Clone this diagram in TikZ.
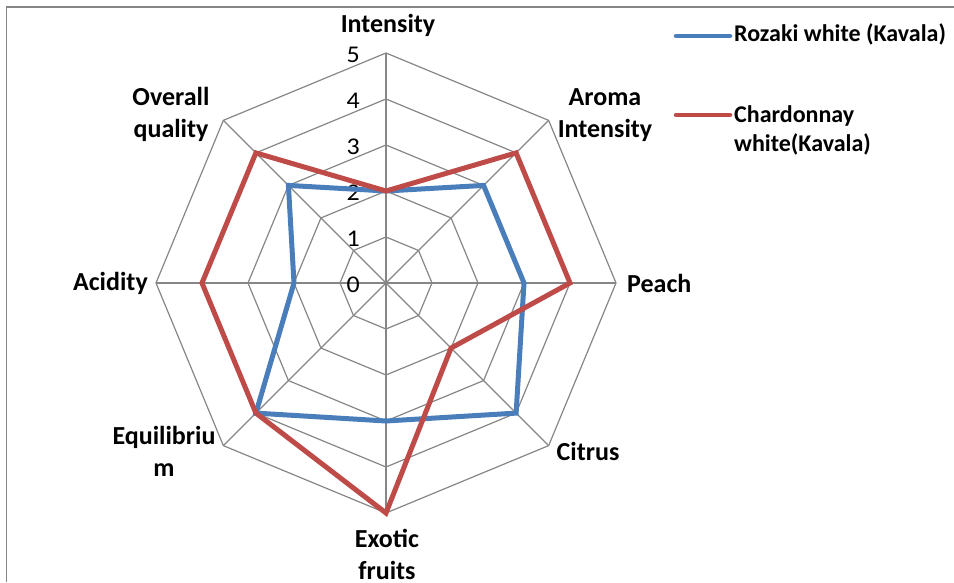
\documentclass[tikz,border=0pt]{standalone}
\usepackage{fontspec}
\setmainfont{Carlito}
\newfontfamily\tickfont[FakeStretch=1.08]{Carlito}
\definecolor{gridgray}{HTML}{868686}
\definecolor{rozaki}{HTML}{4A7EBB}
\definecolor{chard}{HTML}{BE4B48}
\begin{document}
\begin{tikzpicture}[x=1pt,y=1pt,
  gridline/.style={draw=gridgray, line width=1.2pt},
  series/.style={line width=5pt},
  cat/.style={font=\fontsize{26}{32}\selectfont\bfseries, align=center, inner sep=0pt},
  legtext/.style={font=\fontsize{24}{29}\selectfont\bfseries, align=left, inner sep=0pt, anchor=base west},
  ticklab/.style={font=\fontsize{24}{24}\tickfont, inner sep=0pt, anchor=east}]
\useasboundingbox (0,0) rectangle (954,582);
% frame (top and left edges visible)
\draw[gridgray, line width=1.2pt] (6.5,0) -- (6.5,575) -- (954,575);
\begin{scope}[shift={(386,299)}]
  \coordinate (O) at (0,0);
  % grid octagons
  \foreach \r in {46,92,138,184,230}{
    \draw[gridline] (90:\r) -- (45:\r) -- (0:\r) -- (-45:\r) -- (-90:\r) -- (-135:\r) -- (180:\r) -- (135:\r) -- cycle;
  }
  % spokes
  \foreach \a in {0,45,...,315}{
    \draw[gridline] (O) -- (\a:230);
  }
  % tick labels
  \foreach \v in {0,...,5}{
    \node[ticklab] (t\v) at (-26,\v*46-2) {\v};
  }
  % series
  \draw[series, draw=rozaki] (90:92) -- (45:138) -- (0:138) -- (-45:184) -- (-90:138) -- (-135:184) -- (180:92) -- (135:138) -- cycle;
  \draw[series, draw=chard] (90:92) -- (45:184) -- (0:184) -- (-45:92) -- (-90:230) -- (-135:184) -- (180:184) -- (135:184) -- cycle;
\end{scope}
% category labels (absolute coords, y up; base = last line's baseline)
\node[cat, anchor=base] (lint) at (388,549) {Intensity};
\node[cat, anchor=base] (laroma) at (605,444) {Aroma\\Intensity};
\node[cat, anchor=west] (lpeach) at (627,299) {Peach};
\node[cat, anchor=base] (lcitrus) at (588,122) {Citrus};
\node[cat, anchor=base] (lexotic) at (387,2.5) {Exotic\\fruits};
\node[cat, anchor=base] (lequi) at (164,106) {Equilibriu\\m};
\node[cat, anchor=east] (lacid) at (148,299) {Acidity};
\node[cat, anchor=base] (lover) at (171,444) {Overall\\quality};
% legend
\coordinate (b1) at (676,546);
\coordinate (b2) at (730,546);
\draw[rozaki, line width=4.5pt, line cap=round] (b1) -- (b2);
\node[legtext] (lr) at (734,540) {Rozaki white (Kavala)};
\coordinate (r1) at (676,467);
\coordinate (r2) at (730,467);
\draw[chard, line width=4.5pt, line cap=round] (r1) -- (r2);
\node[legtext] (lc) at (734,430) {Chardonnay\\white(Kavala)};
\end{tikzpicture}
\end{document}
